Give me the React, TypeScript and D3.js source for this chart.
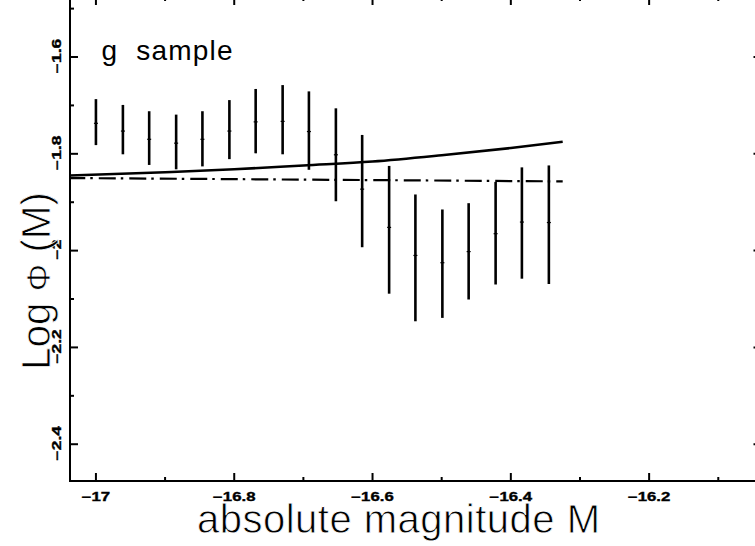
import React from "react";
import * as d3 from "d3";

// ---- data ----
const magnitudes = [-17.0, -16.961, -16.923, -16.884, -16.846, -16.807, -16.769, -16.73, -16.692, -16.653, -16.615, -16.576, -16.538, -16.499, -16.461, -16.422, -16.384, -16.345];
const phiCenter = [-1.737, -1.753, -1.77, -1.778, -1.77, -1.753, -1.734, -1.733, -1.754, -1.802, -1.873, -1.952, -2.01, -2.025, -2.002, -1.965, -1.941, -1.942];
const phiHigh = [-1.687, -1.699, -1.712, -1.719, -1.712, -1.689, -1.666, -1.658, -1.671, -1.706, -1.761, -1.825, -1.884, -1.915, -1.902, -1.858, -1.828, -1.824];
const phiLow = [-1.782, -1.801, -1.823, -1.832, -1.826, -1.811, -1.799, -1.801, -1.833, -1.898, -1.993, -2.089, -2.146, -2.139, -2.101, -2.07, -2.058, -2.069];

const fitM = [-17.04, -16.9, -16.8, -16.7, -16.6, -16.5, -16.4, -16.325];
const fitPhi = [-1.845, -1.838, -1.832, -1.824, -1.816, -1.803, -1.788, -1.775];

const flatM = [-17.04, -16.325];
const flatPhi = [-1.85, -1.857];

const xMajorTicks = [-17, -16.8, -16.6, -16.4, -16.2];
const xMinorTicks = [-16.9, -16.7, -16.5, -16.3, -16.1];
const xTickLabels = ["−17", "−16.8", "−16.6", "−16.4", "−16.2"];
const yMajorTicks = [-1.6, -1.8, -2.0, -2.2, -2.4];
const yMinorTicks = [-1.5, -1.7, -1.9, -2.1, -2.3];
const yTickLabels = ["−1.6", "−1.8", "−2", "−2.2", "−2.4"];

const W = 755;
const H = 546;
const left = 70;
const right = 761.5;
const top = -3;
const bottom = 481;

export default function App() {
  const x = d3.scaleLinear().domain([-17.0375, -16.0375]).range([left, right]);
  const y = d3.scaleLinear().domain([-2.476, -1.476]).range([bottom, top]);

  const fitLine = d3
    .line<number>()
    .x((_, i) => x(fitM[i]))
    .y((d) => y(d))
    .curve(d3.curveMonotoneX)(fitPhi) as string;
  const flatLine = d3
    .line<number>()
    .x((_, i) => x(flatM[i]))
    .y((d) => y(d))(flatPhi) as string;

  const tickFont = {
    fontFamily: "'Liberation Sans', Arial, sans-serif",
    fontWeight: 700,
    fontSize: 12,
    stroke: "#000",
    strokeWidth: 0.35,
  };
  const labelFont = {
    fontFamily: "'Liberation Sans', Arial, sans-serif",
    stroke: "#fff",
    strokeWidth: 0.8,
  };

  return (
    <svg
      width={W}
      height={H}
      viewBox={`0 0 ${W} ${H}`}
      style={{ position: "absolute", left: 0, top: 0, background: "#fff" }}
    >
      <defs>
        <clipPath id="plot">
          <rect x={left} y={top} width={right - left} height={bottom - top} />
        </clipPath>
      </defs>
      <rect x={0} y={0} width={W} height={H} fill="#fff" />

      {/* frame */}
      <rect x={left} y={top} width={right - left} height={bottom - top} fill="none" stroke="#000" strokeWidth={2} />

      {/* x ticks bottom & top */}
      {xMajorTicks.map((t) => (
        <g key={"xM" + t}>
          <line x1={x(t)} x2={x(t)} y1={bottom} y2={bottom - 8} stroke="#000" strokeWidth={2} />
          <line x1={x(t)} x2={x(t)} y1={top} y2={top + 8} stroke="#000" strokeWidth={2} />
        </g>
      ))}
      {xMinorTicks.map((t) => (
        <g key={"xm" + t}>
          <line x1={x(t)} x2={x(t)} y1={bottom} y2={bottom - 4} stroke="#000" strokeWidth={2} />
          <line x1={x(t)} x2={x(t)} y1={top} y2={top + 4} stroke="#000" strokeWidth={2} />
        </g>
      ))}
      {xMajorTicks.map((t, i) => (
        <text
          key={"xl" + t}
          transform={`translate(${x(t)},500.5) scale(1.4,1)`}
          textAnchor="middle"
          {...tickFont}
        >
          {xTickLabels[i]}
        </text>
      ))}

      {/* y ticks left & right */}
      {yMajorTicks.map((t) => (
        <g key={"yM" + t}>
          <line x1={left} x2={left + 8} y1={y(t)} y2={y(t)} stroke="#000" strokeWidth={2} />
          <line x1={right} x2={right - 8} y1={y(t)} y2={y(t)} stroke="#000" strokeWidth={2} />
        </g>
      ))}
      {yMinorTicks.map((t) => (
        <g key={"ym" + t}>
          <line x1={left} x2={left + 4} y1={y(t)} y2={y(t)} stroke="#000" strokeWidth={2} />
          <line x1={right} x2={right - 4} y1={y(t)} y2={y(t)} stroke="#000" strokeWidth={2} />
        </g>
      ))}
      {yMajorTicks.map((t, i) => (
        <text
          key={"yl" + t}
          transform={`translate(61,${y(t) - 1}) rotate(-90) scale(1.45,1)`}
          textAnchor="middle"
          {...tickFont}
        >
          {yTickLabels[i]}
        </text>
      ))}

      {/* data */}
      <g clipPath="url(#plot)">
        <path d={flatLine} fill="none" stroke="#000" strokeWidth={2.2} strokeDasharray="17 5 2.5 6" />
        <path d={fitLine} fill="none" stroke="#000" strokeWidth={2.6} />
        {magnitudes.map((m, i) => (
          <g key={"eb" + i}>
            <line x1={x(m)} x2={x(m)} y1={y(phiHigh[i])} y2={y(phiLow[i])} stroke="#000" strokeWidth={2.6} />
            <line x1={x(m) - 2} x2={x(m) + 2} y1={y(phiCenter[i])} y2={y(phiCenter[i])} stroke="#000" strokeWidth={1.2} />
          </g>
        ))}
      </g>

      {/* labels */}
      <text
        x={101.5}
        y={60}
        fontSize={28}
        fontFamily="'Liberation Sans', Arial, sans-serif"
        style={{ whiteSpace: "pre" }}
        textLength={131}
        lengthAdjust="spacing"
      >
        {"g  sample"}
      </text>
      <text
        x={398.5}
        y={533}
        textAnchor="middle"
        fontSize={40}
        textLength={403}
        lengthAdjust="spacing"
        {...labelFont}
      >
        absolute magnitude M
      </text>
      <text
        transform="translate(50,281) rotate(-90)"
        textAnchor="middle"
        fontSize={40}
        textLength={178}
        lengthAdjust="spacingAndGlyphs"
        {...labelFont}
      >
        Log <tspan fontSize={34}>Φ</tspan> (M)
      </text>
    </svg>
  );
}
